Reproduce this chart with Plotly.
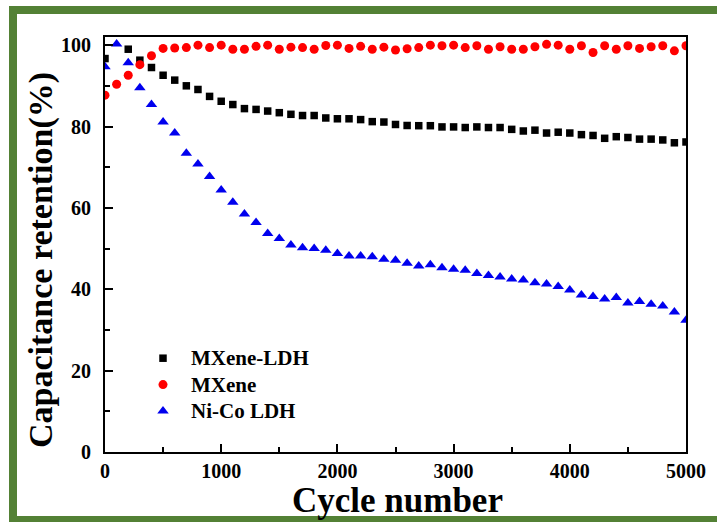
import plotly.graph_objects as go

cycles = [0, 100, 200, 300, 400, 500, 600, 700, 800, 900,
          1000, 1100, 1200, 1300, 1400, 1500, 1600, 1700, 1800, 1900,
          2000, 2100, 2200, 2300, 2400, 2500, 2600, 2700, 2800, 2900,
          3000, 3100, 3200, 3300, 3400, 3500, 3600, 3700, 3800, 3900,
          4000, 4100, 4200, 4300, 4400, 4500, 4600, 4700, 4800, 4900, 5000]

mxene_ldh = [96.7, None, 99.0, 96.3, 94.5, 92.6, 91.4, 90.0, 89.1, 87.4,
             86.2, 85.4, 84.4, 84.2, 83.8, 83.4, 83.0, 82.7, 82.7, 82.1,
             81.9, 81.9, 81.7, 81.2, 81.1, 80.5, 80.25, 80.2, 80.2, 79.9,
             79.9, 79.75, 79.9, 79.75, 79.75, 79.3, 78.9, 79.1, 78.4, 78.6,
             78.4, 78.0, 77.8, 77.1, 77.5, 77.3, 76.9, 76.9, 76.7, 76.0, 76.2]

mxene = [87.7, 90.4, 92.6, 95.2, 97.4, 99.2, 99.3, 99.4, 100.0, 99.4,
         100.0, 99.0, 99.0, 99.7, 100.0, 99.0, 99.5, 99.4, 99.0, 99.9,
         100.0, 99.2, 99.7, 99.0, 99.5, 98.8, 99.1, 99.4, 100.0, 99.85,
         100.0, 99.4, 99.85, 99.0, 99.6, 99.0, 99.0, 99.6, 100.2, 100.0,
         99.0, 99.85, 98.2, 99.85, 99.0, 99.85, 99.2, 99.6, 99.85, 98.6, 99.85]

nico_ldh = [94.7, 100.3, 95.7, 89.5, 85.4, 81.1, 78.4, 73.4, 70.8, 67.7,
            64.4, 61.4, 58.5, 56.4, 53.7, 52.5, 50.9, 50.2, 50.0, 49.6,
            48.8, 48.2, 48.2, 48.0, 47.4, 47.1, 46.4, 45.7, 46.0, 45.3,
            44.9, 44.7, 43.9, 43.4, 43.0, 42.5, 42.3, 41.6, 41.3, 40.7,
            39.8, 38.6, 38.2, 37.6, 38.0, 36.6, 37.0, 36.3, 35.9, 34.4, 32.4]

series_names = ["MXene-LDH", "MXene", "Ni-Co LDH"]

x_ticks = [0, 1000, 2000, 3000, 4000, 5000]
y_ticks = [0, 20, 40, 60, 80, 100]

x_title = "Cycle number"
y_title = "Capacitance retention(%)"

FONT = "Liberation Serif, Times New Roman, serif"
GREEN = "#538135"


def legend_label(name):
    return "<span style='font-size:21px'>" + name + "</span>"


fig = go.Figure()
fig.add_trace(go.Scatter(x=cycles, y=mxene_ldh, mode="markers", name=legend_label(series_names[0]),
                         marker=dict(symbol="square", size=7.5, color="#000000")))
fig.add_trace(go.Scatter(x=cycles, y=mxene, mode="markers", name=legend_label(series_names[1]),
                         marker=dict(symbol="circle", size=9, color="#ff0000")))
fig.add_trace(go.Scatter(x=cycles, y=nico_ldh, mode="markers", name=legend_label(series_names[2]),
                         marker=dict(symbol="triangle-up", size=10, color="#0000ee")))

L, R, T, B = 105, 686, 37, 452
W, H = 717, 522
pw, ph = R - L, B - T


def px(x):
    return (x - L) / pw


def py(y):
    return (B - y) / ph


shapes = [
    dict(type="rect", xref="paper", yref="paper", x0=px(9), x1=px(730), y0=py(14), y1=py(6),
         fillcolor=GREEN, line=dict(width=0), layer="below"),
    dict(type="rect", xref="paper", yref="paper", x0=px(9), x1=px(17), y0=py(522), y1=py(6),
         fillcolor=GREEN, line=dict(width=0), layer="below"),
    dict(type="rect", xref="paper", yref="paper", x0=px(9), x1=px(730), y0=py(522), y1=py(516),
         fillcolor=GREEN, line=dict(width=0), layer="below"),
]

annotations = [
    dict(text=x_title, xref="paper", yref="paper", x=px(397), y=py(500),
         xanchor="center", yanchor="middle", showarrow=False,
         font=dict(family=FONT, size=35, color="black", weight="bold")),
    dict(text=y_title, xref="paper", yref="paper", x=px(41), y=py(260),
         xanchor="center", yanchor="middle", showarrow=False, textangle=-90,
         font=dict(family=FONT, size=34, color="black", weight="bold")),
]

fig.update_layout(
    width=W, height=H,
    margin=dict(l=L, r=W - R, t=T, b=H - B, autoexpand=False),
    paper_bgcolor="white", plot_bgcolor="white",
    shapes=shapes,
    annotations=annotations,
    showlegend=True,
    legend=dict(x=px(135), y=py(340), xanchor="left", yanchor="top",
                font=dict(family=FONT, size=18, color="black", weight="bold"),
                bgcolor="rgba(0,0,0,0)", itemwidth=46, tracegroupgap=0),
    xaxis=dict(range=[0, 5000], tickvals=x_ticks, ticks="inside", ticklen=8, tickwidth=2,
               tickcolor="black",
               minor=dict(dtick=500, ticks="inside", ticklen=5, tickwidth=2, tickcolor="black"),
               showline=True, linecolor="black", linewidth=2, mirror=True,
               showgrid=False, zeroline=False,
               tickfont=dict(family=FONT, size=20, color="black", weight="bold"),
               ticklabelstandoff=0),
    yaxis=dict(range=[0, 102], tickvals=y_ticks, ticks="inside", ticklen=8, tickwidth=2,
               tickcolor="black",
               minor=dict(dtick=10, ticks="inside", ticklen=5, tickwidth=2, tickcolor="black"),
               showline=True, linecolor="black", linewidth=2, mirror=True,
               showgrid=False, zeroline=False,
               tickfont=dict(family=FONT, size=20, color="black", weight="bold"),
               ticklabelstandoff=8),
)

fig.write_html("out.html", config={"displayModeBar": False},
               post_script="document.body.style.margin='0';document.body.style.overflow='hidden';")
